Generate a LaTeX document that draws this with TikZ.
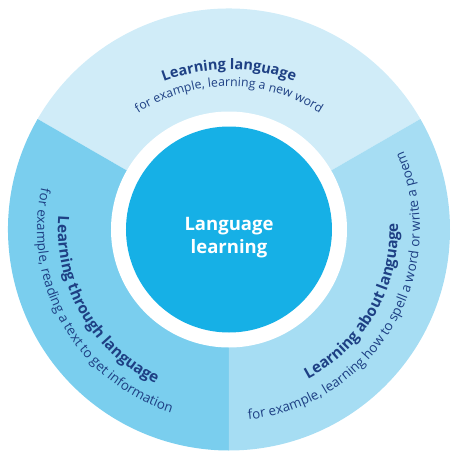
\documentclass[tikz,border=0pt]{standalone}
\usepackage{fontspec}
\setmainfont{Open Sans}
\usetikzlibrary{decorations.text}

\definecolor{ringtop}{RGB}{208,236,248}
\definecolor{ringleft}{RGB}{122,206,238}
\definecolor{ringright}{RGB}{166,221,243}
\definecolor{corecolor}{RGB}{22,176,230}
\definecolor{inkblue}{RGB}{30,64,132}

\newcommand{\headfont}{\bfseries\fontsize{14.5}{17}\selectfont\color{inkblue}}
\newcommand{\notefont}{\fontsize{12.3}{15}\selectfont\color{inkblue}}
\newcommand{\sideheadfont}{\bfseries\fontsize{15.3}{18}\selectfont\color{inkblue}}
\newcommand{\sidenotefont}{\fontsize{13.4}{16}\selectfont\color{inkblue}}

\begin{document}
\begin{tikzpicture}[
        x = 1pt, y = 1pt,
        core/.style = {circle, fill = corecolor, minimum size = 206pt, inner sep = 0pt},
        core label/.style = {text = white, align = center, font = \bfseries\fontsize{18.5}{23}\selectfont},
        curved label/.style = {decorate, decoration = {text along path, text align = center, text = {#1}}}
    ]

    \useasboundingbox (-229,-231.5) rectangle (231,229.5);

    % outer ring, three sectors
    \fill[ringtop]   (0,0) -- (30:221)  arc[start angle = 30,  end angle = 150, radius = 221] -- cycle;
    \fill[ringleft]  (0,0) -- (150:221) arc[start angle = 150, end angle = 270, radius = 221] -- cycle;
    \fill[ringright] (0,0) -- (270:221) arc[start angle = 270, end angle = 390, radius = 221] -- cycle;

    % white gap and centre
    \fill[white] (0,0) circle[radius = 118];
    \node[core] (centre) at (0,0) {};
    \node[core label] (centretext) at ([yshift = -8pt]centre.center) {Language\\learning};

    % top sector
    \path[curved label = {|\headfont|Learning language}]
        ([shift = {(150:185)}]0,-25) arc[start angle = 150, end angle = 30, radius = 185];
    \path[curved label = {|\notefont|for example, learning a new word}]
        ([shift = {(150:168)}]0,-25) arc[start angle = 150, end angle = 30, radius = 168];

    % left sector
    \path[curved label = {|\sideheadfont|Learning through language}]
        (150:171) arc[start angle = 150, end angle = 270, radius = 171];
    \path[curved label = {|\sidenotefont|for example, reading a text to get information}]
        (150:192) arc[start angle = 150, end angle = 270, radius = 192];

    % right sector
    \path[curved label = {|\sideheadfont|Learning about language}]
        (270:169) arc[start angle = 270, end angle = 390, radius = 169];
    \path[curved label = {|\sidenotefont|for example, learning how to spell a word or write a poem}]
        (270:191) arc[start angle = 270, end angle = 390, radius = 191];

\end{tikzpicture}
\end{document}
